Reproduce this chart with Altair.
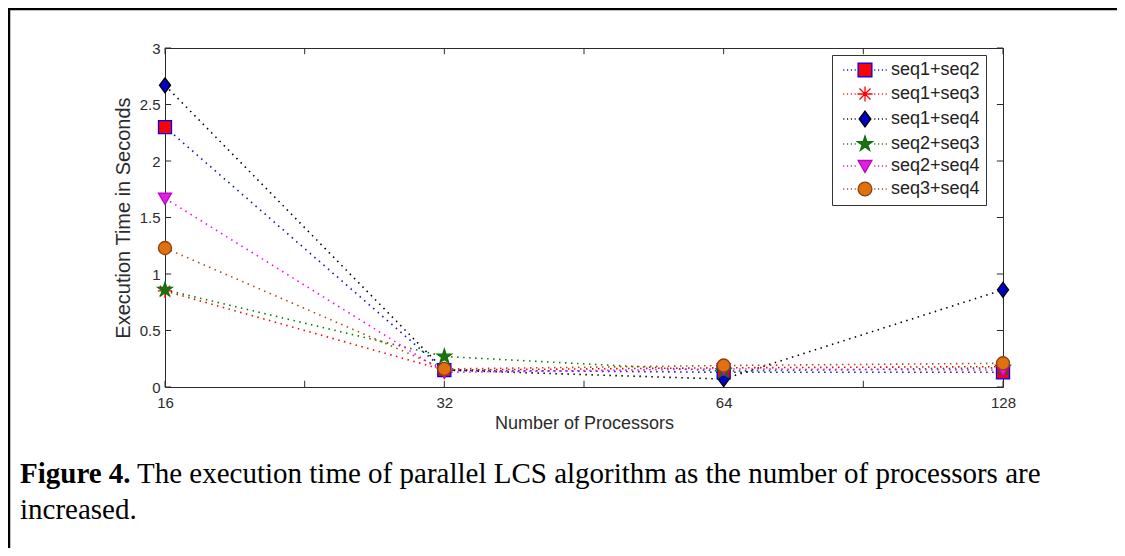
import altair as alt
import pandas as pd

# ---------------- data ----------------
procs = [16, 32, 64, 128]
series = ["seq1+seq2", "seq1+seq3", "seq1+seq4", "seq2+seq3", "seq2+seq4", "seq3+seq4"]
t_seq1_seq2 = [2.30, 0.15, 0.13, 0.13]
t_seq1_seq3 = [0.85, 0.15, 0.17, 0.18]
t_seq1_seq4 = [2.67, 0.15, 0.07, 0.86]
t_seq2_seq3 = [0.86, 0.27, 0.14, 0.17]
t_seq2_seq4 = [1.67, 0.13, 0.16, 0.15]
t_seq3_seq4 = [1.23, 0.16, 0.19, 0.21]
all_times = [t_seq1_seq2, t_seq1_seq3, t_seq1_seq4, t_seq2_seq3, t_seq2_seq4, t_seq3_seq4]

y_ticks = [0, 0.5, 1, 1.5, 2, 2.5, 3]
x_ticks = [0, 0.5, 1, 1.5, 2, 2.5, 3]  # positions of processor ticks (index scale) incl. minor

x_title = "Number of Processors"
y_title = "Execution Time in Seconds"
caption_bold = "Figure  4."
caption_line1 = "The execution time of parallel LCS algorithm as the number of processors are"
caption_line2 = "increased."

# ---------------- styles ----------------
line_colors = ["#1010c0", "#ff0000", "#000000", "#008000", "#ff00ff", "#b04a10"]
fill_colors = ["#ff0000", "#ff0000", "#0000c8", "#207010", "#e020e0", "#e07010"]
edge_colors = ["#0000ff", "#ff0000", "#000000", "#107010", "#c000c0", "#8b4010"]

sq = "M-1,-1L1,-1L1,1L-1,1Z"
ast = "M-1.1,0L1.1,0M0,-1.1L0,1.1M-0.8,-0.8L0.8,0.8M-0.8,0.8L0.8,-0.8"
dia = "M0,-1.15L0.85,0L0,1.15L-0.85,0Z"
pent = ("M0,-1.15L0.258,-0.355L1.094,-0.355L0.417,0.136L0.676,0.93L0,0.44"
        "L-0.676,0.93L-0.417,0.136L-1.094,-0.355L-0.258,-0.355Z")
tri = "M-1,-0.8L1,-0.8L0,0.95Z"
circ = "M1,0A1,1,0,1,1,-1,0A1,1,0,1,1,1,0Z"
marker_paths = [sq, ast, dia, pent, tri, circ]

dots = ("M-3.15,0L-3.0,0M-2.6,0L-2.45,0M-2.05,0L-1.9,0M-1.5,0L-1.35,0"
        "M1.35,0L1.5,0M1.9,0L2.05,0M2.45,0L2.6,0M3.0,0L3.15,0")
legend_paths = [p + dots for p in marker_paths]

FONT = "Liberation Sans"
AX_COLOR = "#2b2b2b"

rows = []
for s, lc, times in zip(series, line_colors, all_times):
    for i, (p, t) in enumerate(zip(procs, times)):
        rows.append({"series": s, "idx": i, "procs": p, "time": t, "line_color": lc})
df = pd.DataFrame(rows)

proc_label_expr = ("datum.value % 1 == 0 ? [" + ",".join("'%d'" % p for p in procs)
                   + "][datum.value] : ''")

x_scale = alt.Scale(domain=[0, len(procs) - 1], nice=False, zero=False)
y_scale = alt.Scale(domain=[0, 3], nice=False)

x_enc = alt.X("idx:Q", scale=x_scale, axis=alt.Axis(
    values=x_ticks, labelExpr=proc_label_expr, ticks=False, domain=False, grid=False,
    title=x_title, labelFont=FONT, labelFontSize=15, labelColor=AX_COLOR, labelPadding=8,
    titleFont=FONT, titleFontSize=18, titleFontWeight="normal", titleColor=AX_COLOR,
    titlePadding=4, labelFlush=False))
y_enc = alt.Y("time:Q", scale=y_scale, axis=alt.Axis(
    values=y_ticks, format="~g", ticks=False, domain=False, grid=False, title=y_title,
    labelFont=FONT, labelFontSize=15, labelColor=AX_COLOR, labelPadding=5,
    titleFont=FONT, titleFontSize=20, titleFontWeight="normal", titleColor=AX_COLOR,
    titlePadding=6, labelFlush=False))

lines = alt.Chart(df).mark_line(strokeDash=[1.5, 4.5], strokeWidth=1.6).encode(
    x=x_enc, y=y_enc,
    stroke=alt.Stroke("line_color:N", scale=None),
    detail="series:N",
)

points = alt.Chart(df).mark_point(filled=True, size=170, strokeWidth=1.3, opacity=1).encode(
    x="idx:Q", y="time:Q",
    shape=alt.Shape("series:N", scale=alt.Scale(domain=series, range=marker_paths), legend=None),
    fill=alt.Fill("series:N", scale=alt.Scale(domain=series, range=fill_colors), legend=None),
    stroke=alt.Stroke("series:N", scale=alt.Scale(domain=series, range=edge_colors), legend=None),
)

# inward ticks drawn from the tick arrays through the scales
xt = pd.DataFrame({"t": x_ticks})
yt = pd.DataFrame({"t": y_ticks})
tick_len_y = 0.055
tick_len_x = 0.022
tick_style = dict(color=AX_COLOR, strokeWidth=1)
xt_bottom = alt.Chart(xt).mark_rule(**tick_style).encode(
    x="t:Q", y=alt.datum(0), y2=alt.datum(tick_len_y))
xt_top = alt.Chart(xt).mark_rule(**tick_style).encode(
    x="t:Q", y=alt.datum(3), y2=alt.datum(3 - tick_len_y))
yt_left = alt.Chart(yt).mark_rule(**tick_style).encode(
    y="t:Q", x=alt.datum(0), x2=alt.datum(tick_len_x))
yt_right = alt.Chart(yt).mark_rule(**tick_style).encode(
    y="t:Q", x=alt.datum(3), x2=alt.datum(3 - tick_len_x))

legend_layer = alt.Chart(df).transform_filter("false").mark_point(
    filled=True, size=190, strokeWidth=1.3, opacity=1).encode(
    shape=alt.Shape("series:N", scale=alt.Scale(domain=series, range=legend_paths),
                    legend=alt.Legend(title=None)),
    fill=alt.Fill("series:N", scale=alt.Scale(domain=series, range=fill_colors),
                  legend=alt.Legend(title=None)),
    stroke=alt.Stroke("series:N", scale=alt.Scale(domain=series, range=edge_colors),
                      legend=alt.Legend(title=None)),
)

cap_df1 = pd.DataFrame({"t": [caption_bold]})
cap_df2 = pd.DataFrame({"t": [caption_line1]})
cap_df3 = pd.DataFrame({"t": [caption_line2]})
SERIF = "Liberation Serif"
CAP_SIZE = 29
cap_bold = alt.Chart(cap_df1).mark_text(
    font=SERIF, fontSize=CAP_SIZE, fontWeight="bold", align="left", baseline="alphabetic",
    color="black").encode(x=alt.value(-145), y=alt.value(435), text="t:N")
cap_l1 = alt.Chart(cap_df2).mark_text(
    font=SERIF, fontSize=CAP_SIZE, align="left", baseline="alphabetic",
    color="black").encode(x=alt.value(-28), y=alt.value(435), text="t:N")
cap_l2 = alt.Chart(cap_df3).mark_text(
    font=SERIF, fontSize=CAP_SIZE, align="left", baseline="alphabetic",
    color="black").encode(x=alt.value(-145), y=alt.value(471), text="t:N")

frame_df = pd.DataFrame({"k": [0]})
frame_top = alt.Chart(frame_df).mark_rule(color="black", strokeWidth=2.5).encode(
    x=alt.value(-157), x2=alt.value(952), y=alt.value(-39))
frame_left = alt.Chart(frame_df).mark_rule(color="black", strokeWidth=2.5).encode(
    x=alt.value(-156), y=alt.value(-40), y2=alt.value(500))

chart = alt.layer(
    lines, xt_bottom, xt_top, yt_left, yt_right, points, legend_layer,
    cap_bold, cap_l1, cap_l2, frame_top, frame_left,
).resolve_scale(
    shape="independent", fill="independent", stroke="independent"
).properties(
    width=838, height=339,
    autosize=alt.AutoSizeParams(type="none"),
    padding={"left": 157, "top": 40, "right": 114, "bottom": 161},
).configure_view(
    stroke=AX_COLOR, strokeWidth=1
).configure_legend(
    orient="none", legendX=667, legendY=7,
    strokeColor="#333333", fillColor="white", padding=6,
    labelFont=FONT, labelFontSize=18, labelColor="#222222",
    symbolStrokeWidth=1.3, symbolSize=190, rowPadding=3,
    symbolOffset=18, labelOffset=17, cornerRadius=0,
)

chart.save("out.html", embed_options={"renderer": "svg", "actions": False})
